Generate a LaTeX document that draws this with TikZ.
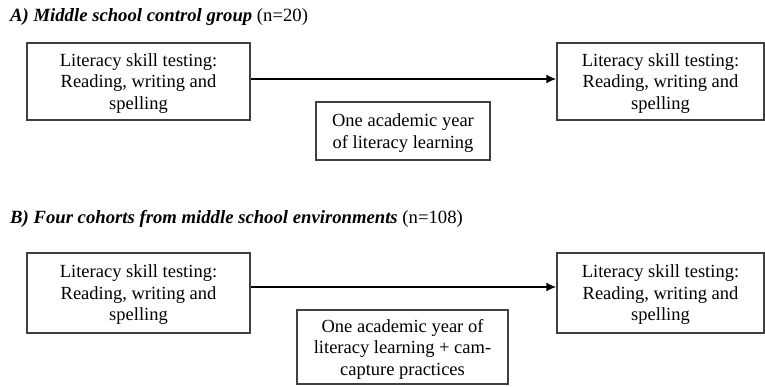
\documentclass[tikz,border=0pt]{standalone}
\usepackage{fontspec}
\setmainfont{Liberation Serif}
\usetikzlibrary{arrows.meta}
\begin{document}
\begin{tikzpicture}[x=1pt,y=-1pt,
  box/.style={draw=black!75,line width=1.2pt,align=center,inner sep=2pt,
    font=\fontsize{18.5}{21.5}\selectfont,text depth=0pt},
  conn/.style={line width=2pt,-{Latex[length=10pt,width=9pt]}},
  ttl/.style={anchor=west,inner sep=0pt,font=\fontsize{18.7}{21}\selectfont}]
\useasboundingbox (0,0) rectangle (765,386);
\node[ttl] (ta) at (10,17) {\textbf{\textit{A) Middle school control group}} (n=20)};
\node[box,minimum width=223pt,minimum height=77pt] (a1) at (138.5,81.5)
  {Literacy skill testing:\\Reading, writing and\\spelling};
\node[box,minimum width=207pt,minimum height=77pt] (a2) at (660.5,81.5)
  {Literacy skill testing:\\Reading, writing and\\spelling};
\node[box,minimum width=174pt,minimum height=58pt] (am) at (403,131)
  {One academic year\\of literacy learning};
\draw[conn] (a1.east |- 0,79) -- (a2.west |- 0,79);
\node[ttl] (tb) at (10,219) {\textbf{\textit{B) Four cohorts from middle school environments}} (n=108)};
\node[box,minimum width=223pt,minimum height=80pt] (b1) at (138.5,293)
  {Literacy skill testing:\\Reading, writing and\\spelling};
\node[box,minimum width=207pt,minimum height=80pt] (b2) at (660.5,293)
  {Literacy skill testing:\\Reading, writing and\\spelling};
\node[box,minimum width=211pt,minimum height=74pt] (bm) at (402.5,347)
  {One academic year of\\literacy learning + cam-\\capture practices};
\draw[conn] (b1.east |- 0,287) -- (b2.west |- 0,287);
\end{tikzpicture}
\end{document}
